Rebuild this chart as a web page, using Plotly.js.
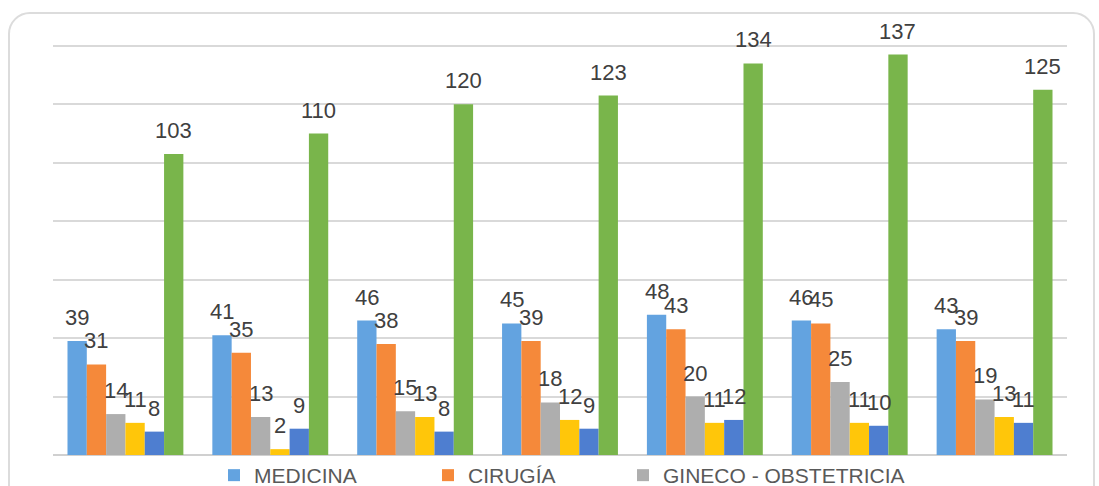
<!DOCTYPE html>
<html>
<head>
<meta charset="utf-8">
<script src="https://cdn.plot.ly/plotly-3.0.1.min.js"></script>
<style>
  html, body { margin: 0; padding: 0; background: #ffffff; }
  #wrap { position: relative; width: 1099px; height: 486px; overflow: hidden; }
  #frame { position: absolute; left: 8px; top: 12px; width: 1087px; height: 500px;
           border: 2px solid #dcdcdc; border-radius: 22px; box-sizing: border-box; }
  #chart { position: absolute; left: 0; top: 0; width: 1099px; height: 486px; }
</style>
</head>
<body>
<div id="wrap">
  <div id="frame"></div>
  <div id="chart"></div>
</div>
<script>
const categories = ["G1", "G2", "G3", "G4", "G5", "G6", "G7"];
const seriesNames = ["MEDICINA", "CIRUGÍA", "GINECO - OBSTETRICIA", "PEDIATRÍA", "NEONATOLOGÍA", "TOTAL"];
const medicina = [39, 41, 46, 45, 48, 46, 43];
const cirugia = [31, 35, 38, 39, 43, 45, 39];
const gineco = [14, 13, 15, 18, 20, 25, 19];
const pediatria = [11, 2, 13, 12, 11, 11, 13];
const neonatologia = [8, 9, 8, 9, 12, 10, 11];
const total = [103, 110, 120, 123, 134, 137, 125];
const colors = ["#63A3E0", "#F5893A", "#AEAEAE", "#FFC60A", "#4E7ED0", "#79B54B"];
const legendIds = ["legend", "legend2", "legend3", null, null, null];

const values = [medicina, cirugia, gineco, pediatria, neonatologia, total];

const W = 1099, H = 486;
const M = { l: 53, r: 32, t: 40, b: 31 };
const bargap = 0.2;
const plotW = W - M.l - M.r;
const barW = plotW / categories.length * (1 - bargap) / values.length;

const traces = values.map((v, i) => {
  const t = {
    type: "bar",
    name: seriesNames[i],
    x: categories,
    y: v,
    marker: { color: colors[i] },
    showlegend: legendIds[i] !== null,
    hoverinfo: "skip"
  };
  if (legendIds[i]) t.legend = legendIds[i];
  return t;
});

const labelFont = { family: "Liberation Sans, Arial", size: 22, color: "#404040" };
const annotations = [];
values.forEach((v, i) => {
  v.forEach((val, j) => {
    annotations.push({
      x: j,
      y: val,
      xref: "x",
      yref: "y",
      text: String(val),
      showarrow: false,
      xanchor: "center",
      yanchor: "bottom",
      xshift: (i - (values.length - 1) / 2) * barW,
      yshift: 9,
      font: labelFont
    });
  });
});

const legendFont = { family: "Liberation Sans, Arial", size: 21, color: "#595959" };
function legendAt(px) {
  return {
    orientation: "h",
    x: (px - M.l) / plotW,
    xanchor: "left",
    y: 0,
    yanchor: "top",
    font: legendFont,
    itemwidth: 30,
    bgcolor: "rgba(0,0,0,0)"
  };
}

const layout = {
  width: W,
  height: H,
  paper_bgcolor: "rgba(0,0,0,0)",
  plot_bgcolor: "rgba(0,0,0,0)",
  margin: { l: M.l, r: M.r, t: M.t, b: M.b, pad: 0, autoexpand: false },
  barmode: "group",
  bargap: bargap,
  bargroupgap: 0,
  showlegend: true,
  xaxis: {
    type: "category",
    range: [-0.5, categories.length - 0.5],
    showticklabels: false,
    showgrid: false,
    zeroline: false,
    ticks: ""
  },
  yaxis: {
    range: [0, 142],
    tick0: 0,
    dtick: 20,
    showticklabels: false,
    showgrid: true,
    gridcolor: "#d9d9d9",
    gridwidth: 2,
    zeroline: true,
    zerolinecolor: "#d0d0d0",
    zerolinewidth: 2,
    ticks: ""
  },
  legend: legendAt(214),
  legend2: legendAt(428),
  legend3: legendAt(623),
  annotations: annotations,
  font: { family: "Liberation Sans, Arial", color: "#404040" }
};

Plotly.newPlot("chart", traces, layout, { displayModeBar: false, staticPlot: true });
</script>
</body>
</html>
